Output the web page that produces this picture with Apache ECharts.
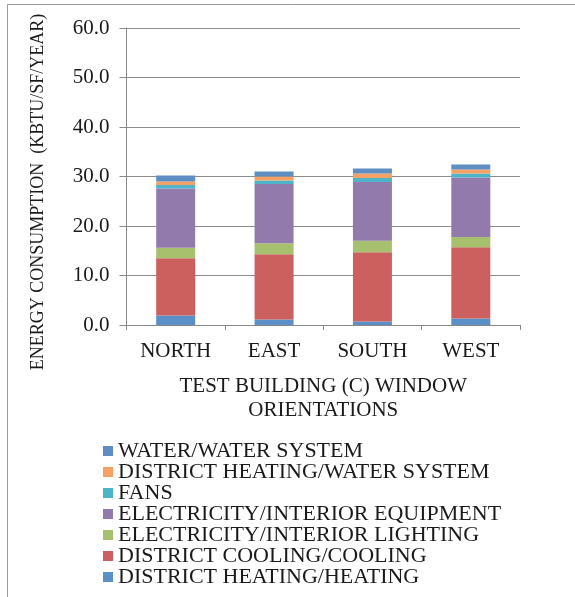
<!DOCTYPE html>
<html>
<head>
<meta charset="utf-8">
<script src="https://cdn.jsdelivr.net/npm/echarts@6/dist/echarts.min.js"></script>
<style>
  html, body { margin: 0; padding: 0; background: #fff; }
  #chart { width: 575px; height: 597px; }
</style>
</head>
<body>
<div id="chart"></div>
<script>
// orientations on the x axis
var orientations = ["NORTH", "EAST", "SOUTH", "WEST"];

// stacked from the bottom up (kBtu/sf/year)
var heating       = [1.9, 1.1, 0.7, 1.3];
var cooling       = [11.6, 13.2, 14.0, 14.4];
var lighting      = [2.1, 2.2, 2.3, 2.1];
var equipment     = [12.0, 12.0, 11.9, 12.0];
var fans          = [0.7, 0.7, 0.8, 0.8];
var dhWater       = [0.7, 0.8, 0.9, 0.8];
var waterSystem   = [1.2, 1.0, 1.0, 1.0];

var seriesNames = [
  "DISTRICT HEATING/HEATING",
  "DISTRICT COOLING/COOLING",
  "ELECTRICITY/INTERIOR LIGHTING",
  "ELECTRICITY/INTERIOR EQUIPMENT",
  "FANS",
  "DISTRICT HEATING/WATER SYSTEM",
  "WATER/WATER SYSTEM"
];
var seriesData = [heating, cooling, lighting, equipment, fans, dhWater, waterSystem];
var colors = ["#5B8FC8", "#CC605E", "#A6C06E", "#927BAC", "#4EB4CA", "#F7A064", "#5F8FC2"];

var serif = "Liberation Serif";
var ink = "#1a1a1a";

var chart = echarts.init(document.getElementById("chart"));

var series = seriesNames.map(function (name, i) {
  return {
    name: name,
    type: "bar",
    stack: "total",
    barWidth: 39,
    itemStyle: { color: colors[i] },
    data: seriesData[i]
  };
});

chart.setOption({
  animation: false,
  grid: { left: 126.5, right: 55, top: 28, bottom: 272 },
  legend: {
    orient: "vertical",
    left: 103,
    top: 440,
    height: 250,
    padding: 0,
    itemWidth: 10,
    itemHeight: 10,
    itemGap: -1,
    icon: "rect",
    data: seriesNames.slice().reverse(),
    textStyle: { fontFamily: serif, fontSize: 22, color: ink }
  },
  xAxis: {
    type: "category",
    data: orientations,
    name: "TEST BUILDING (C) WINDOW\nORIENTATIONS",
    nameLocation: "middle",
    nameGap: 49,
    nameTextStyle: { fontFamily: serif, fontSize: 21, color: ink, lineHeight: 24 },
    axisLine: { lineStyle: { color: "#888", width: 1 } },
    axisTick: { show: true, length: 5, lineStyle: { color: "#888" } },
    axisLabel: { fontFamily: serif, fontSize: 21, color: ink, margin: 16 }
  },
  yAxis: {
    type: "value",
    min: 0,
    max: 60,
    interval: 10,
    axisLine: { show: true, lineStyle: { color: "#888", width: 1 } },
    axisTick: { show: true, length: 7, lineStyle: { color: "#888" } },
    axisLabel: {
      fontFamily: serif, fontSize: 21, color: ink, margin: 17,
      formatter: function (v) { return v.toFixed(1); }
    },
    splitLine: { lineStyle: { color: "#8c8c8c", width: 1 } }
  },
  graphic: [
    {
      type: "text",
      x: 38,
      y: 192,
      rotation: Math.PI / 2,
      style: {
        text: "ENERGY CONSUMPTION  (KBTU/SF/YEAR)",
        font: "18px 'Liberation Serif'",
        fill: ink,
        textAlign: "center",
        textVerticalAlign: "middle"
      }
    },
    {
      type: "rect",
      shape: { x: 7.5, y: 4.5, width: 700, height: 700 },
      style: { fill: "none", stroke: "#9a9a9a", lineWidth: 1 },
      silent: true
    }
  ],
  series: series
});
</script>
</body>
</html>
